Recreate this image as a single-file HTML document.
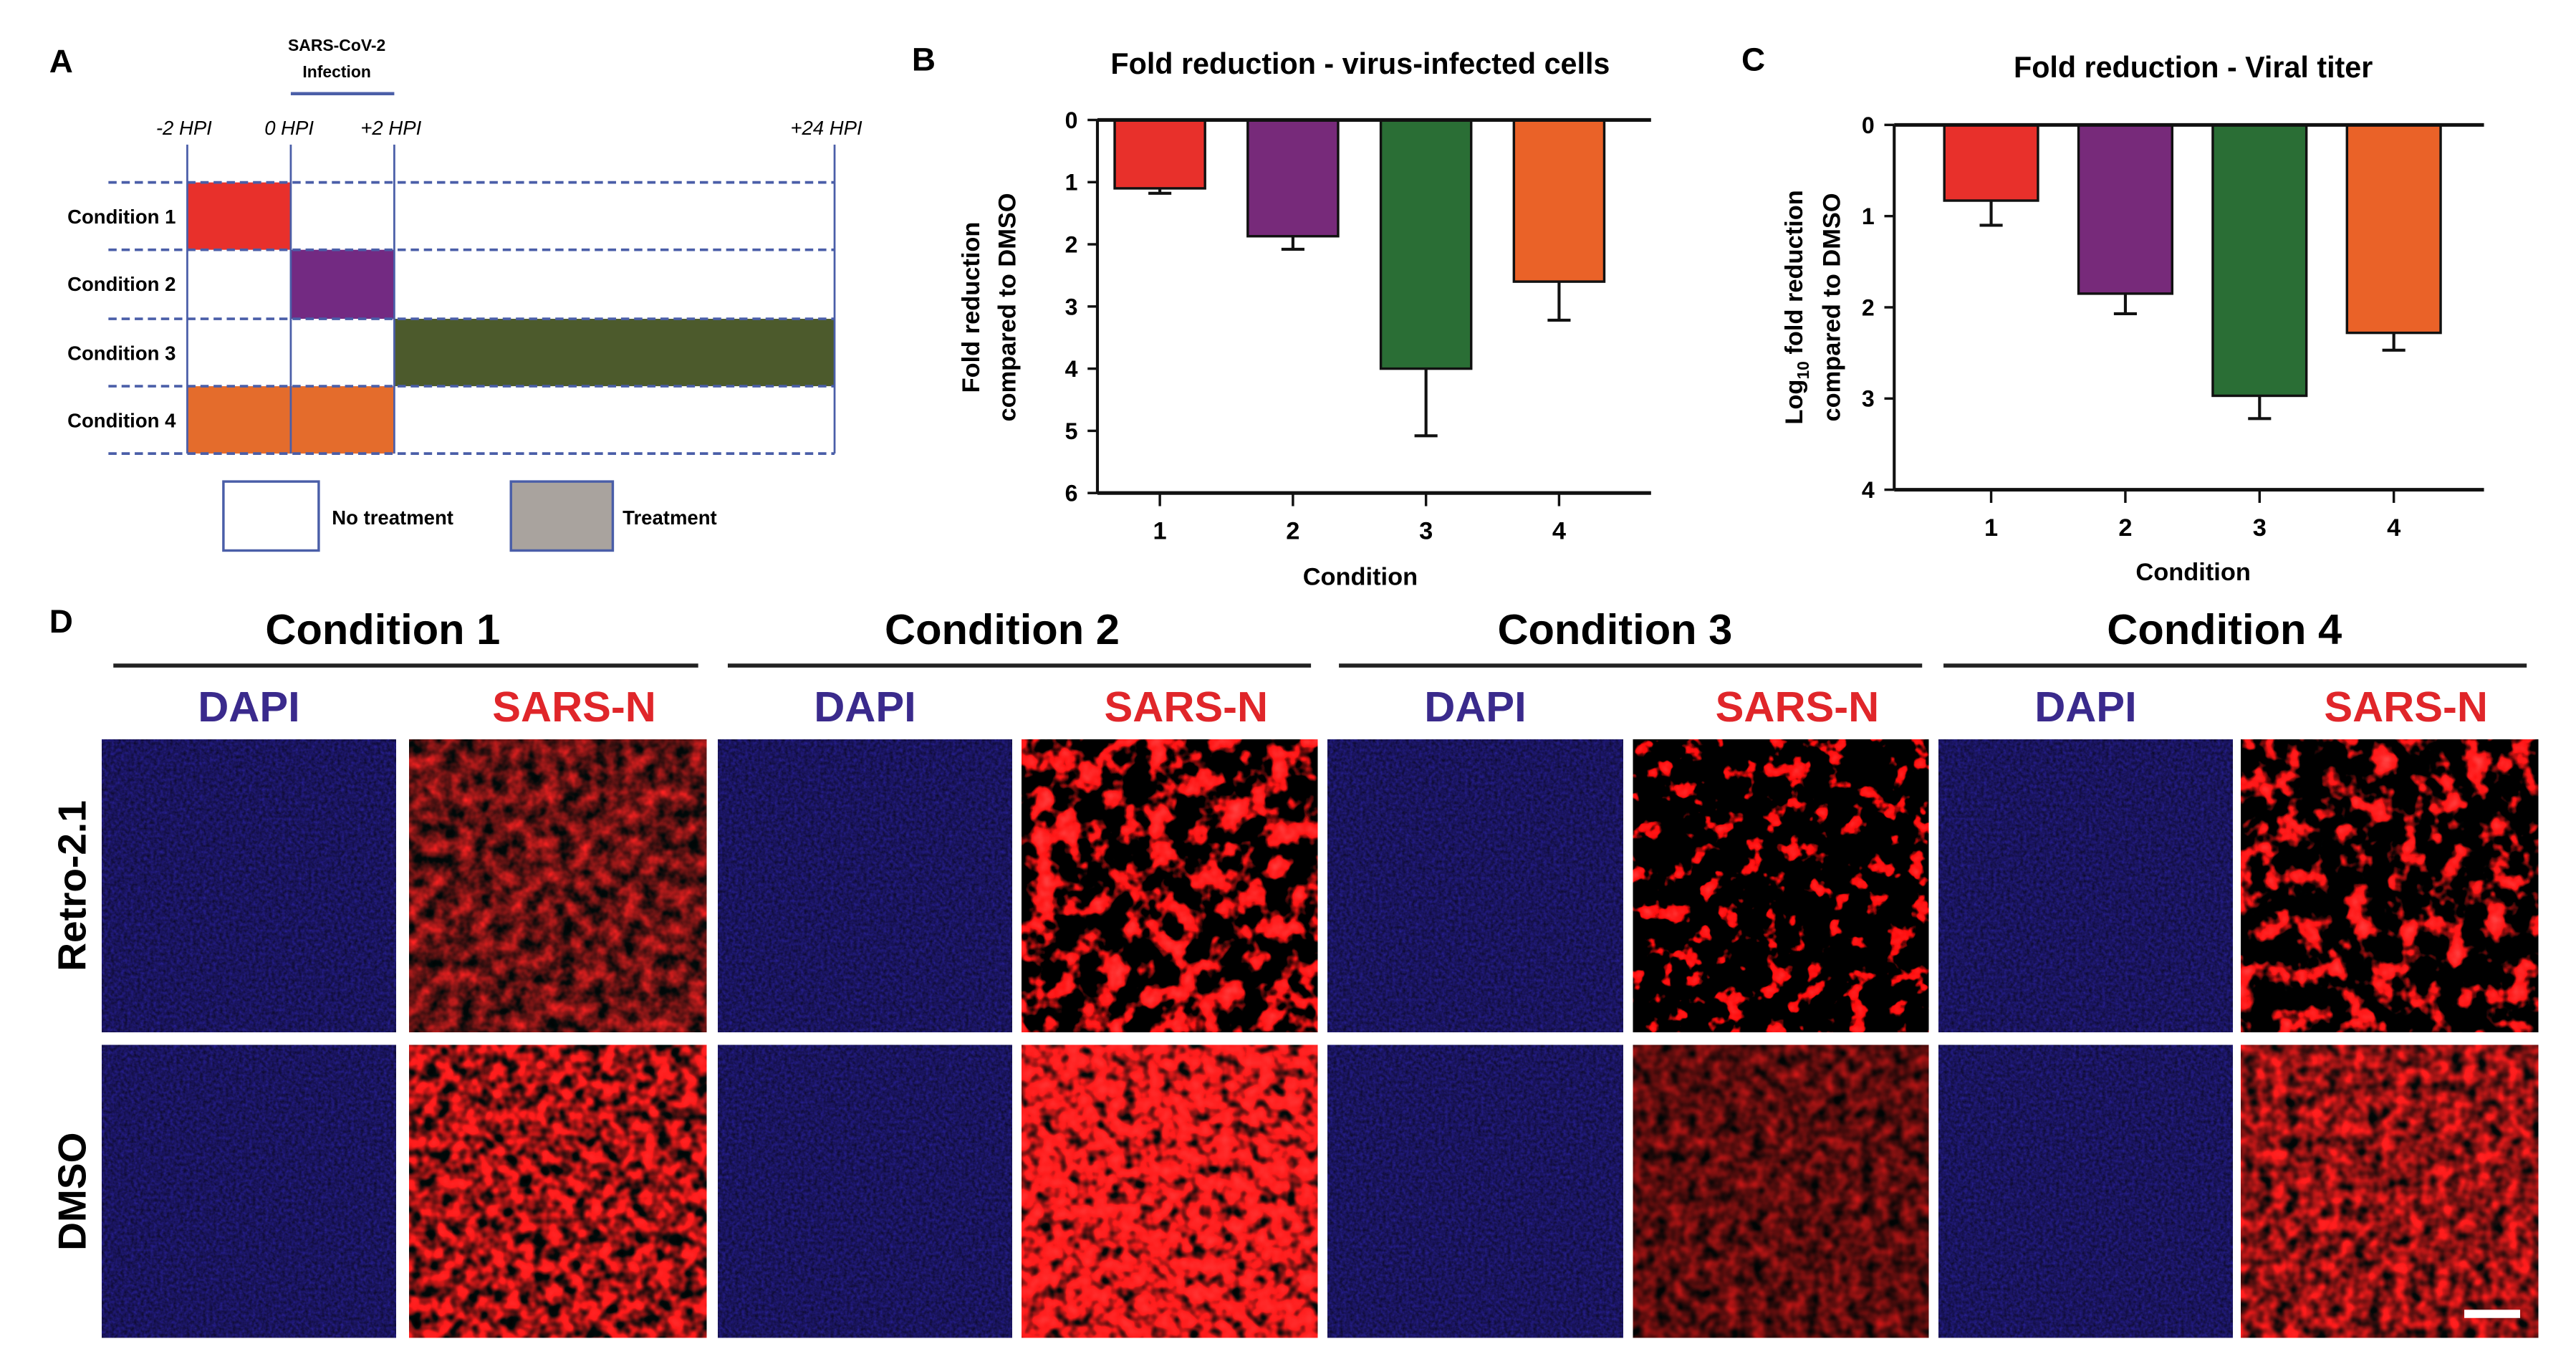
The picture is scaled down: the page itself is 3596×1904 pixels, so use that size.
<!DOCTYPE html>
<html><head><meta charset="utf-8"><style>
html,body{margin:0;padding:0;background:#fff}
svg{display:block}
text{font-family:"Liberation Sans",Arial,sans-serif}
.n{font-family:"Liberation Sans Narrow","Liberation Sans",sans-serif}
</style></head><body>
<svg id="fig" width="3596" height="1904" viewBox="0 0 1568 830" preserveAspectRatio="none" xmlns="http://www.w3.org/2000/svg">
<defs>
<filter id="blue" x="0" y="0" width="100%" height="100%" color-interpolation-filters="sRGB">
<feTurbulence type="fractalNoise" baseFrequency="0.5" numOctaves="2" seed="3"/>
<feColorMatrix values="0.12 0 0 0 0.04  0.1 0 0 0 0.03  0.5 0 0 0 0.12  0 0 0 0 1"/>
</filter>
<filter id="redA" x="0" y="0" width="100%" height="100%" color-interpolation-filters="sRGB">
<feTurbulence type="fractalNoise" baseFrequency="0.1" numOctaves="3" seed="5"/>
<feColorMatrix values="1.6 0 0 0 -0.4  0.15 0 0 0 0  0.15 0 0 0 0  0 0 0 0 1"/>
</filter>
<filter id="redB" x="0" y="0" width="100%" height="100%" color-interpolation-filters="sRGB">
<feTurbulence type="fractalNoise" baseFrequency="0.07" numOctaves="3" seed="9"/>
<feColorMatrix values="8 0 0 0 -3.8  0.6 0 0 0 -0.28  0.6 0 0 0 -0.28  0 0 0 0 1"/>
</filter>
<filter id="redC" x="0" y="0" width="100%" height="100%" color-interpolation-filters="sRGB">
<feTurbulence type="fractalNoise" baseFrequency="0.08" numOctaves="3" seed="13"/>
<feColorMatrix values="12 0 0 0 -7  0.6 0 0 0 -0.35  0.6 0 0 0 -0.35  0 0 0 0 1"/>
</filter>
<filter id="redE" x="0" y="0" width="100%" height="100%" color-interpolation-filters="sRGB">
<feTurbulence type="fractalNoise" baseFrequency="0.07" numOctaves="3" seed="17"/>
<feColorMatrix values="8 0 0 0 -4.1  0.6 0 0 0 -0.3  0.6 0 0 0 -0.3  0 0 0 0 1"/>
</filter>
<filter id="redD1" x="0" y="0" width="100%" height="100%" color-interpolation-filters="sRGB">
<feTurbulence type="fractalNoise" baseFrequency="0.12" numOctaves="2" seed="21"/>
<feColorMatrix values="3 0 0 0 -0.9  0.2 0 0 0 -0.02  0.2 0 0 0 -0.02  0 0 0 0 1"/>
</filter>
<filter id="redD2" x="0" y="0" width="100%" height="100%" color-interpolation-filters="sRGB">
<feTurbulence type="fractalNoise" baseFrequency="0.12" numOctaves="2" seed="25"/>
<feColorMatrix values="3.5 0 0 0 -0.8  0.25 0 0 0 -0.02  0.25 0 0 0 -0.02  0 0 0 0 1"/>
</filter>
<filter id="redD3" x="0" y="0" width="100%" height="100%" color-interpolation-filters="sRGB">
<feTurbulence type="fractalNoise" baseFrequency="0.12" numOctaves="2" seed="29"/>
<feColorMatrix values="1.2 0 0 0 -0.25  0.1 0 0 0 0  0.1 0 0 0 0  0 0 0 0 1"/>
</filter>
<filter id="redD4" x="0" y="0" width="100%" height="100%" color-interpolation-filters="sRGB">
<feTurbulence type="fractalNoise" baseFrequency="0.12" numOctaves="2" seed="33"/>
<feColorMatrix values="2 0 0 0 -0.45  0.15 0 0 0 0  0.15 0 0 0 0  0 0 0 0 1"/>
</filter>
</defs>

<g>
<text x="30" y="44" font-size="20" font-weight="bold">A</text>
<text x="205" y="31" font-size="10" font-weight="bold" text-anchor="middle" class="n">SARS-CoV-2</text>
<text x="205" y="47" font-size="10" font-weight="bold" text-anchor="middle" class="n">Infection</text>
<line x1="177" y1="57" x2="240" y2="57" stroke="#4b5fa8" stroke-width="2"/>
<g font-size="12" font-style="italic" text-anchor="middle">
<text x="112" y="82">-2 HPI</text>
<text x="176" y="82">0 HPI</text>
<text x="238" y="82">+2 HPI</text>
<text x="503" y="82">+24 HPI</text>
</g>
<rect x="114" y="111" width="63" height="41" fill="#e8302b"/>
<rect x="177" y="152" width="63" height="42" fill="#732a82"/>
<rect x="240" y="194" width="268" height="41" fill="#4c5a2c"/>
<rect x="114" y="235" width="126" height="41" fill="#e46c2c"/>
<g stroke="#4a5ea8" stroke-width="1.2">
<line x1="114" y1="88" x2="114" y2="276"/><line x1="177" y1="88" x2="177" y2="276"/><line x1="240" y1="88" x2="240" y2="276"/><line x1="508" y1="88" x2="508" y2="276"/>
</g>
<g stroke="#4a5ea8" stroke-width="1.6" stroke-dasharray="5,3">
<line x1="66" y1="111" x2="508" y2="111"/><line x1="66" y1="152" x2="508" y2="152"/><line x1="66" y1="194" x2="508" y2="194"/><line x1="66" y1="235" x2="508" y2="235"/><line x1="66" y1="276" x2="508" y2="276"/>
</g>
<g font-size="12" font-weight="bold" text-anchor="end" class="n">
<text x="107" y="136">Condition 1</text>
<text x="107" y="177">Condition 2</text>
<text x="107" y="219">Condition 3</text>
<text x="107" y="260">Condition 4</text>
</g>
<rect x="136" y="293" width="58" height="42" fill="#fff" stroke="#4a5ea8" stroke-width="1.5"/>
<text x="202" y="319" font-size="12" font-weight="bold" class="n">No treatment</text>
<rect x="311" y="293" width="62" height="42" fill="#a9a39e" stroke="#4a5ea8" stroke-width="1.5"/>
<text x="379" y="319" font-size="12" font-weight="bold" class="n">Treatment</text>
</g>

<g id="chartB">
<text x="555" y="43" font-size="20" font-weight="bold">B</text>
<text x="828" y="45" font-size="18" font-weight="bold" text-anchor="middle">Fold reduction - virus-infected cells</text>
<text transform="translate(596,187) rotate(-90)" font-size="15" font-weight="bold" text-anchor="middle">Fold reduction</text>
<text transform="translate(618,187) rotate(-90)" font-size="15" font-weight="bold" text-anchor="middle">compared to DMSO</text>
<text x="828" y="356" font-size="15" font-weight="bold" text-anchor="middle">Condition</text>
</g>

<g id="chartC">
<text x="1060" y="43" font-size="20" font-weight="bold">C</text>
<text x="1335" y="47" font-size="18" font-weight="bold" text-anchor="middle">Fold reduction - Viral titer</text>
<text transform="translate(1097,187) rotate(-90)" font-size="15" font-weight="bold" text-anchor="middle">Log<tspan font-size="10" dy="4">10</tspan><tspan dy="-4"> fold reduction</tspan></text>
<text transform="translate(1120,187) rotate(-90)" font-size="15" font-weight="bold" text-anchor="middle">compared to DMSO</text>
<text x="1335" y="353" font-size="15" font-weight="bold" text-anchor="middle">Condition</text>
</g>

<g id="panelD">
<text x="30" y="385" font-size="20" font-weight="bold">D</text>
<text transform="translate(52,539) rotate(-90)" font-size="24" font-weight="bold" text-anchor="middle">Retro-2.1</text>
<text transform="translate(52,725) rotate(-90)" font-size="24" font-weight="bold" text-anchor="middle">DMSO</text>
</g>
</svg>
<script>
var NS="http://www.w3.org/2000/svg";
function mk(p,t,a){var e=document.createElementNS(NS,t);for(var k in a)e.setAttribute(k,a[k]);p.appendChild(e);return e;}
var colors=["#e8302b","#772a7a","#2a6e35","#ea6228"];
var categories=["1","2","3","4"];
var bMeans=[1.1,1.87,4.0,2.6];
var bErrs=[0.08,0.21,1.08,0.62];
var bTicks=[0,1,2,3,4,5,6];
var cMeans=[0.83,1.85,2.97,2.28];
var cErrs=[0.27,0.22,0.25,0.19];
var cTicks=[0,1,2,3,4];
function chart(gid,means,errs,ticks,x0,x1,y0,y1,ymax,pref,off,step,bw){
  var g=document.getElementById(gid);
  var ys=function(v){return y0+(y1-y0)*v/ymax;};
  var n=means.length;
  var xs=function(i){return x0+off+step*i;};
  for(var i=0;i<n;i++){
    var cx=xs(i);
    var el=mk(g,"line",{x1:cx,y1:ys(means[i]),x2:cx,y2:ys(means[i]+errs[i]),stroke:"#111","stroke-width":1.8});
    
    
    el=mk(g,"line",{x1:cx-7,y1:ys(means[i]+errs[i]),x2:cx+7,y2:ys(means[i]+errs[i]),stroke:"#111","stroke-width":1.8});
    
    
    el=mk(g,"rect",{x:cx-bw/2,y:y0,width:bw,height:ys(means[i])-y0,fill:colors[i],stroke:"#111","stroke-width":1.5});
    
    
    el=mk(g,"line",{x1:cx,y1:y1,x2:cx,y2:y1+8,stroke:"#111","stroke-width":1.5});
    
    
    el=mk(g,"text",{x:cx,y:y1+28,"font-size":15,"font-weight":"bold","text-anchor":"middle"});
    el.textContent=categories[i];
    
    
  }
  for(var j=0;j<ticks.length;j++){
    var y=ys(ticks[j]);
    var t=mk(g,"line",{x1:x0-6,y1:y,x2:x0,y2:y,stroke:"#111","stroke-width":1.5});
    
    
    t=mk(g,"text",{x:x0-12,y:y+5,"font-size":14,"font-weight":"bold","text-anchor":"end"});
    t.textContent=ticks[j];
    
    
  }
  var a=mk(g,"line",{x1:x0,y1:y0,x2:x0,y2:y1,stroke:"#111","stroke-width":1.8});
  
  
  a=mk(g,"line",{x1:x0,y1:y0,x2:x1,y2:y0,stroke:"#111","stroke-width":2.2});
  
  
  a=mk(g,"line",{x1:x0,y1:y1,x2:x1,y2:y1,stroke:"#111","stroke-width":2.2});
  
  
}
chart("chartB",bMeans,bErrs,bTicks,668,1005,73,300,6,"chart-b",38,81,55);
chart("chartC",cMeans,cErrs,cTicks,1153,1512,76,298,4,"chart-c",59,81.7,57);

var D=document.getElementById("panelD");
var conds=["Condition 1","Condition 2","Condition 3","Condition 4"];
var groupX=[[69,425],[443,798],[815,1170],[1183,1538]];
var headX=[233,610,983,1354];
var cols=[[62,241],[249,430],[437,616],[622,802],[808,988],[994,1174],[1180,1359],[1364,1545]];
var rows=[[450,628],[636,814]];
var redF=[["redA","redB","redC","redE"],["redD1","redD2","redD3","redD4"]];
for(var c=0;c<4;c++){
  var gx=groupX[c];
  var e=mk(D,"text",{x:headX[c],y:392,"font-size":26,"font-weight":"bold","text-anchor":"middle"});
  e.textContent=conds[c];
  
  
  e=mk(D,"line",{x1:gx[0],y1:405,x2:gx[1],y2:405,stroke:"#222","stroke-width":2.5});
  
  
  for(var k=0;k<2;k++){
    var col=cols[c*2+k];
    e=mk(D,"text",{x:(col[0]+col[1])/2+(k?10:0),y:439,"font-size":26,"font-weight":"bold","text-anchor":"middle",fill:k?"#e0262a":"#3a2a8c"});
    e.textContent=k?"SARS-N":"DAPI";
    
    
    for(var r=0;r<2;r++){
      var rw=rows[r];
      e=mk(D,"rect",{x:col[0],y:rw[0],width:col[1]-col[0],height:rw[1]-rw[0],fill:"#000",filter:k?"url(#"+redF[r][c]+")":"url(#blue)"});
      
      
    }
  }
}
var sb=mk(D,"rect",{x:1500,y:797,width:34,height:5,fill:"#fff"});


</script>
</body></html>
